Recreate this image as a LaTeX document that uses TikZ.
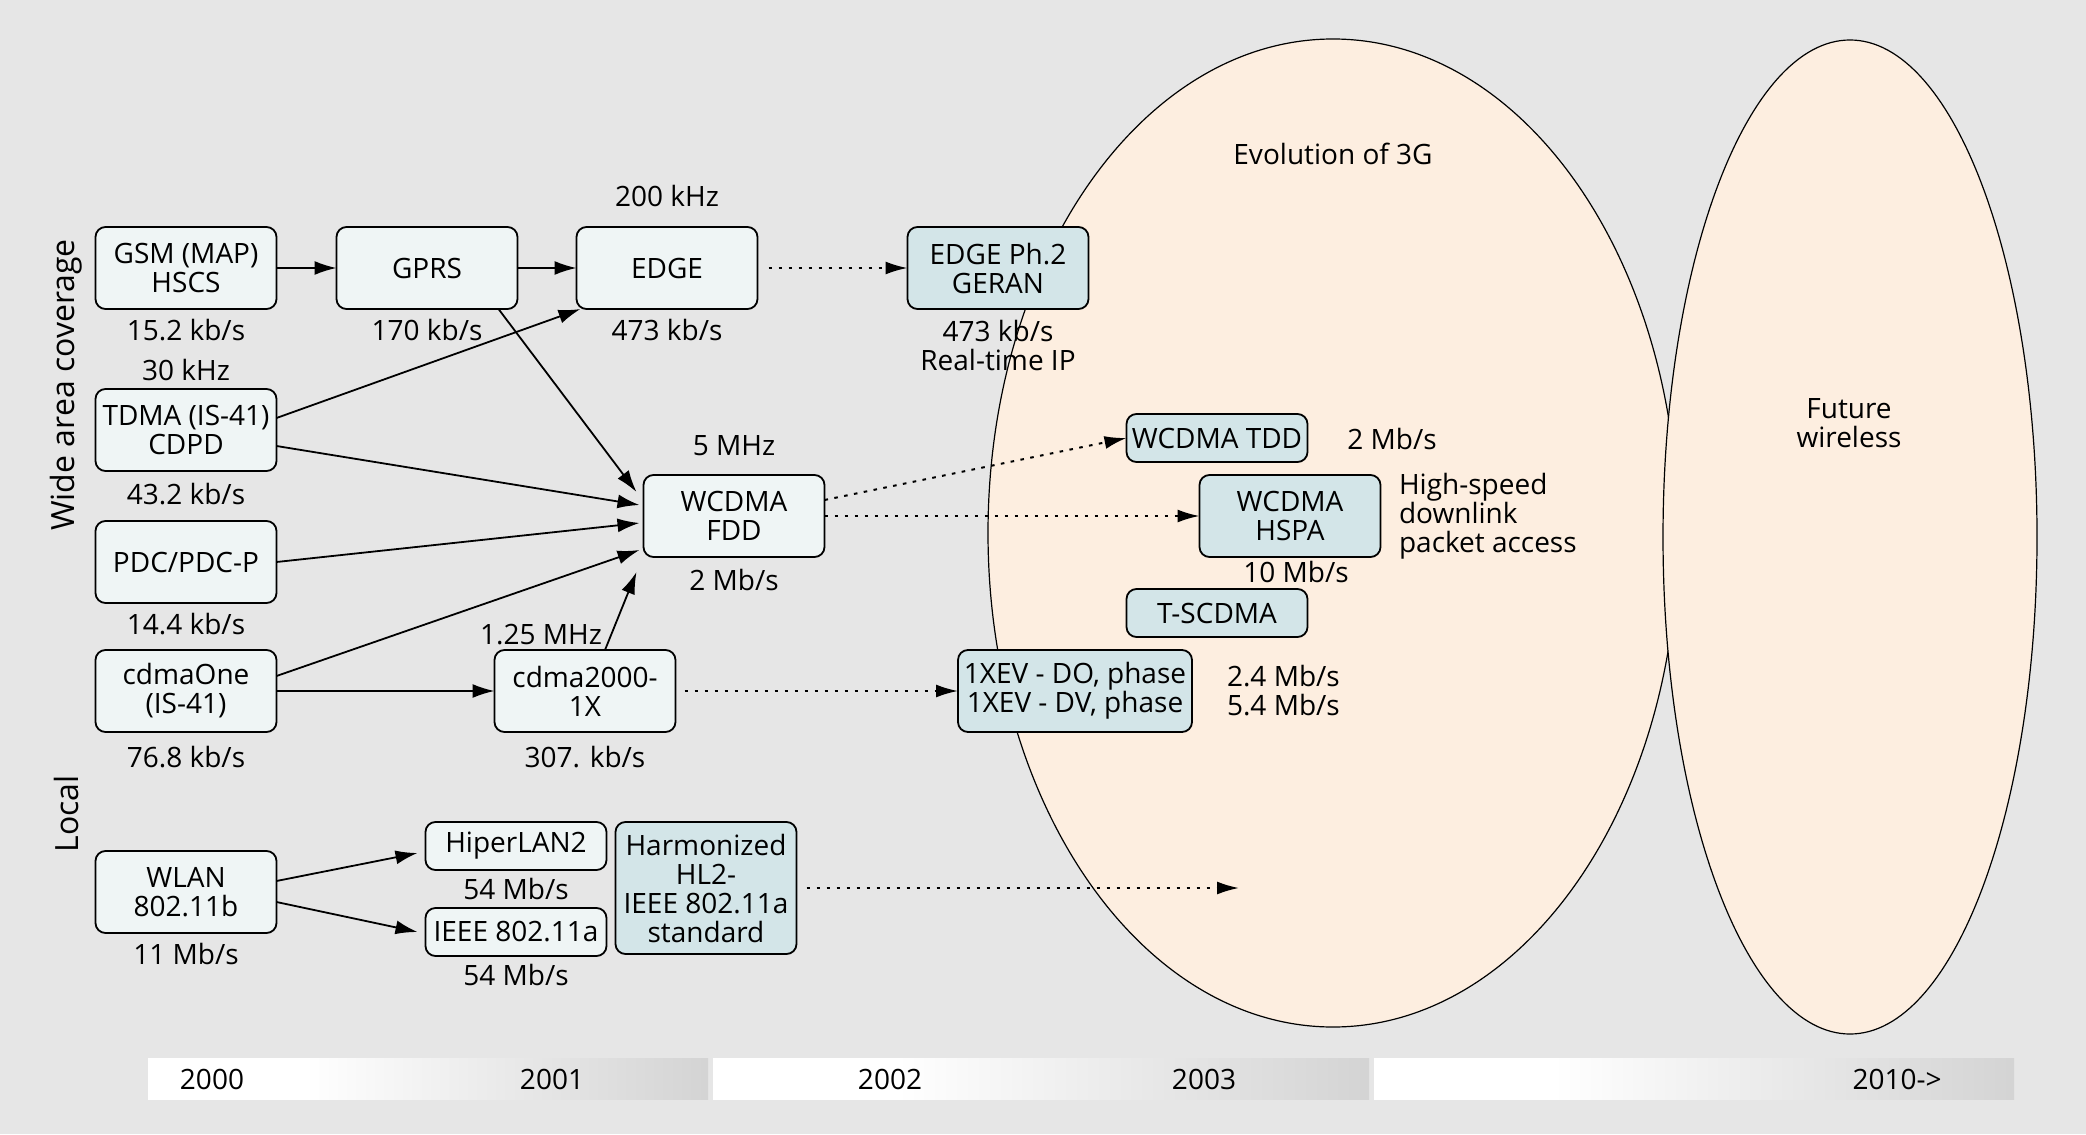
\documentclass[tikz,border=0pt]{standalone}
\usepackage{fontspec}
\setmainfont{Open Sans}
\usetikzlibrary{arrows.meta}
\definecolor{bggray}{HTML}{E6E6E6}
\definecolor{boxfill}{HTML}{EFF5F5}
\definecolor{bluefill}{HTML}{D3E5E8}
\definecolor{peach}{HTML}{FDEEE0}
\pgfdeclarehorizontalshading{yearbar}{100bp}{color(0bp)=(white); color(39bp)=(white); color(75bp)=(black!17); color(100bp)=(black!17)}
\begin{document}
\begin{tikzpicture}[x=0.5pt, y=-0.5pt,
  every node/.style={font=\fontsize{14}{14.5}\selectfont, inner sep=1pt, outer sep=0pt},
  box/.style={draw, line width=0.9pt, rounded corners=5pt, fill=boxfill, minimum width=90.5pt, minimum height=41pt, align=center},
  smallbox/.style={box, minimum height=24pt},
  bluebox/.style={fill=bluefill},
  link/.style={line width=0.9pt, -{Latex[length=11pt, width=7pt]}},
  dotlink/.style={line width=1pt, dash pattern=on 1.8pt off 3.2pt, -{Latex[length=11pt, width=6.5pt]}},
  side/.style={font=\fontsize{16}{18}\selectfont, rotate=90}]
\fill[bggray] (0,0) rectangle (2086,1134);
\useasboundingbox (0,0) rectangle (2086,1134);

\draw[fill=peach, line width=0.6pt] (1333,533) ellipse [x radius=172.5pt, y radius=247pt];
\draw[fill=peach, line width=0.6pt] (1850,537) ellipse [x radius=93.5pt, y radius=248.5pt];
\node (evo) at (1333,154) {Evolution of 3G};
\node[align=center] (future) at (1849,423) {Future\\wireless};

\node[box] (gsm) at (186,268) {GSM (MAP)\\HSCS};
\node[box] (gprs) at (427,268) {GPRS};
\node[box] (edge) at (667,268) {EDGE};
\node[box, bluebox] (ph2) at (998,268) {EDGE Ph.2\\GERAN};
\node[box] (tdma) at (186,430) {TDMA (IS-41)\\CDPD};
\node[box] (pdc) at (186,562) {PDC/PDC-P};
\node[box] (cdmaone) at (186,691) {cdmaOne\\(IS-41)};
\node[box] (fdd) at (734,516) {WCDMA\\FDD};
\node[box] (cdma) at (585,691) {cdma2000-\\1X};
\node[box] (wlan) at (186,892) {WLAN\\802.11b};
\node[smallbox] (hiper) at (516,846) {HiperLAN2};
\node[smallbox] (ieee) at (516,932) {IEEE 802.11a};
\node[box, bluebox, minimum height=66pt] (harm) at (706,888) {Harmonized\\HL2-\\IEEE 802.11a\\standard};
\node[smallbox, bluebox] (tdd) at (1217,438) {WCDMA TDD};
\node[box, bluebox] (hspa) at (1290,516) {WCDMA\\HSPA};
\node[smallbox, bluebox] (tscdma) at (1217,613) {T-SCDMA};
\node[box, bluebox, minimum width=117pt] (xev) at (1075,691) {1XEV - DO, phase\\1XEV - DV, phase};
\coordinate (harmend) at (1239,888);

\node (edgefreq) at (667,196) {200 kHz};
\node (gsmrate) at (186,330) {15.2 kb/s};
\node (gprsrate) at (427,330) {170 kb/s};
\node (edgerate) at (667,330) {473 kb/s};
\node[align=center] (ph2rate) at (998,345) {473 kb/s\\Real-time IP};
\node (tdmafreq) at (186,370) {30 kHz};
\node (tdmarate) at (186,494) {43.2 kb/s};
\node (pdcrate) at (186,624) {14.4 kb/s};
\node (cdmaonerate) at (186,757) {76.8 kb/s};
\node (fddfreq) at (734,446) {5 MHz};
\node (fddrate) at (734,580) {2 Mb/s};
\node (cdmafreq) at (541,635) {1.25 MHz};
\node (cdmarate) at (585,757) {307. kb/s};
\node (wlanrate) at (186,954) {11 Mb/s};
\node (hiperrate) at (516,889) {54 Mb/s};
\node (ieeerate) at (516,975) {54 Mb/s};
\node (tddrate) at (1392,439) {2 Mb/s};
\node[anchor=west, align=left] (hspatext) at (1397,516) {High-speed\\downlink\\packet access};
\node (hsparate) at (1296,572) {10 Mb/s};
\node[anchor=west, align=left] (xevrate) at (1225,691) {2.4 Mb/s\\5.4 Mb/s};
\node[side] (wide) at (66,385) {Wide area coverage};
\node[side] (local) at (66,814) {Local};

\draw[link] (gsm) -- (gprs);
\draw[link] (gprs) -- (edge);
\draw[dotlink, shorten <=5.5pt] (edge) -- (ph2);
\draw[link] ([xshift=-9.5pt]gprs.south east) -- ([xshift=-3.5pt, yshift=-8.5pt]fdd.north west);
\draw[link] ([yshift=6pt]tdma.east) -- ([xshift=2pt]edge.south west);
\draw[link] ([yshift=-8pt]tdma.east) -- ([xshift=-2pt, yshift=5.5pt]fdd.west);
\draw[link] (pdc.east) -- ([xshift=-2pt, yshift=-3.5pt]fdd.west);
\draw[link] ([yshift=7.5pt]cdmaone.east) -- ([xshift=-2pt, yshift=-17pt]fdd.west);
\draw[link] (cdmaone) -- (cdma);
\draw[link] ([xshift=10pt]cdma.north) -- ([xshift=-3.5pt, yshift=-7.5pt]fdd.south west);
\draw[dotlink, shorten <=4.5pt] (cdma) -- (xev);
\draw[dotlink] ([yshift=8pt]fdd.east) -- (tdd.west);
\draw[dotlink] (fdd) -- (hspa);
\draw[link] ([yshift=5.5pt]wlan.east) -- ([xshift=-4pt, yshift=-3.5pt]hiper.west);
\draw[link] ([yshift=-5pt]wlan.east) -- ([xshift=-4pt]ieee.west);
\draw[dotlink, shorten <=5pt] (harm.east) -- (harmend);

\shade[shading=yearbar] (148,1058) rectangle (708,1099);
\shade[shading=yearbar] (713,1058) rectangle (1369,1099);
\shade[shading=yearbar] (1374,1058) rectangle (2014,1099);
\node (y2000) at (212,1079) {2000};
\node (y2001) at (552,1079) {2001};
\node (y2002) at (890,1079) {2002};
\node (y2003) at (1204,1079) {2003};
\node (y2010) at (1897,1079) {2010->};
\end{tikzpicture}
\end{document}
